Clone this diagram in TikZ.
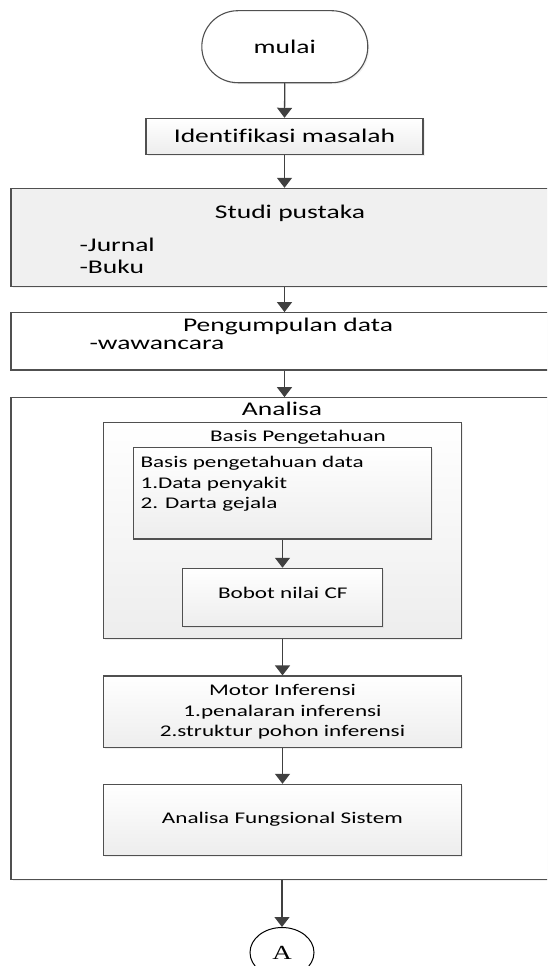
\documentclass[tikz,border=0pt]{standalone}
\usepackage{fontspec}
\setmainfont{Carlito}[FakeStretch=1.42, Ligatures=NoCommon]
\newfontfamily\serifA{Liberation Serif}[FakeStretch=1.35]
\usetikzlibrary{arrows.meta,shadows,shapes.geometric}

\definecolor{linegray}{HTML}{505050}
\definecolor{arrowgray}{HTML}{404040}
\definecolor{fillgray}{HTML}{F0F0F0}

\tikzset{
  box/.style={draw=linegray, line width=1.1pt, fill=white, inner sep=0pt,
    drop shadow={opacity=0.12, shadow xshift=1.5pt, shadow yshift=-1.5pt}},
  shadebox/.style={box, top color=white, bottom color=black!7},
  bigfont/.style={font=\fontsize{19.4}{21.7}\selectfont},
  smallfont/.style={font=\fontsize{16.3}{20.3}\selectfont},
  arr/.style={draw=arrowgray, line width=1.3pt, -{Triangle[width=15pt,length=10pt]}}
}

\begin{document}
\begin{tikzpicture}[x=1pt,y=-1pt]
            \useasboundingbox (0,0) rectangle (547,966);
            \clip (0,0) rectangle (547,966);
            \node[box, rounded corners=36pt, minimum width=166pt, minimum height=72pt, bigfont] (mulai) at (284.8,46.7) {mulai};
            \node[shadebox, minimum width=277pt, minimum height=35.7pt, bigfont] (ident) at (284.5,136.2) {Identifikasi masalah};
            \node[box, fill=fillgray, minimum width=554pt, minimum height=97.7pt] (studi) at (288,237.2) {};
            \node[bigfont] (studititle) at (290,213.3) {Studi pustaka};
            \node[bigfont, align=left, anchor=west] (studilist) at (76,255.8) {-Jurnal\\-Buku};
            \node[box, minimum width=554pt, minimum height=57.3pt] (kumpul) at (288,341.3) {};
            \node[bigfont] (kumpultitle) at (288,326.7) {Pengumpulan data};
            \node[bigfont, anchor=west] (wawancara) at (86,345) {-wawancara};
            \node[box, minimum width=554pt, minimum height=481.6pt] (analisa) at (288,638.5) {};
            \node[bigfont] (analisatitle) at (282,409.3) {Analisa};
            \node[shadebox, minimum width=358pt, minimum height=215.7pt] (basis) at (282.5,530.2) {};
            \node[smallfont] (basistitle) at (298,437.7) {Basis Pengetahuan};
            \node[shadebox, minimum width=298pt, minimum height=91.3pt] (data) at (282.5,493.3) {};
            \node[smallfont, align=left, anchor=west] (datalist) at (137,484) {Basis pengetahuan data\\1.Data penyakit\\2. Darta gejala};
            \node[shadebox, minimum width=200pt, minimum height=58.4pt] (bobot) at (282.8,597.5) {};
            \node[smallfont] (bobottext) at (282.8,592.5) {Bobot nilai CF};
            \node[shadebox, minimum width=358pt, minimum height=71.7pt, smallfont, align=center] (motor) at (282.5,711.8) {Motor Inferensi\\1.penalaran inferensi\\2.struktur pohon inferensi};
            \node[shadebox, minimum width=358pt, minimum height=70.7pt, smallfont] (fungsi) at (282.5,819.7) {Analisa Fungsional Sistem};
            \node[draw=black, line width=1pt, ellipse, inner sep=0pt, minimum width=64pt, minimum height=50pt, font=\serifA\fontsize{20}{24}\selectfont] (konektor) at (282,952.5) {A};
            \draw[arr] (mulai.south) -- (ident.north);
            \draw[arr] (ident.south) -- (ident.south |- studi.north);
            \draw[arr] (ident.south |- studi.south) -- (ident.south |- kumpul.north);
            \draw[arr] (ident.south |- kumpul.south) -- (ident.south |- analisa.north);
            \draw[arr] (data.south) -- (data.south |- bobot.north);
            \draw[arr] (basis.south) -- (motor.north);
            \draw[arr] (motor.south) -- (fungsi.north);
            \draw[arr] (konektor.north |- analisa.south) -- (konektor.north);
        \end{tikzpicture}
\end{document}
